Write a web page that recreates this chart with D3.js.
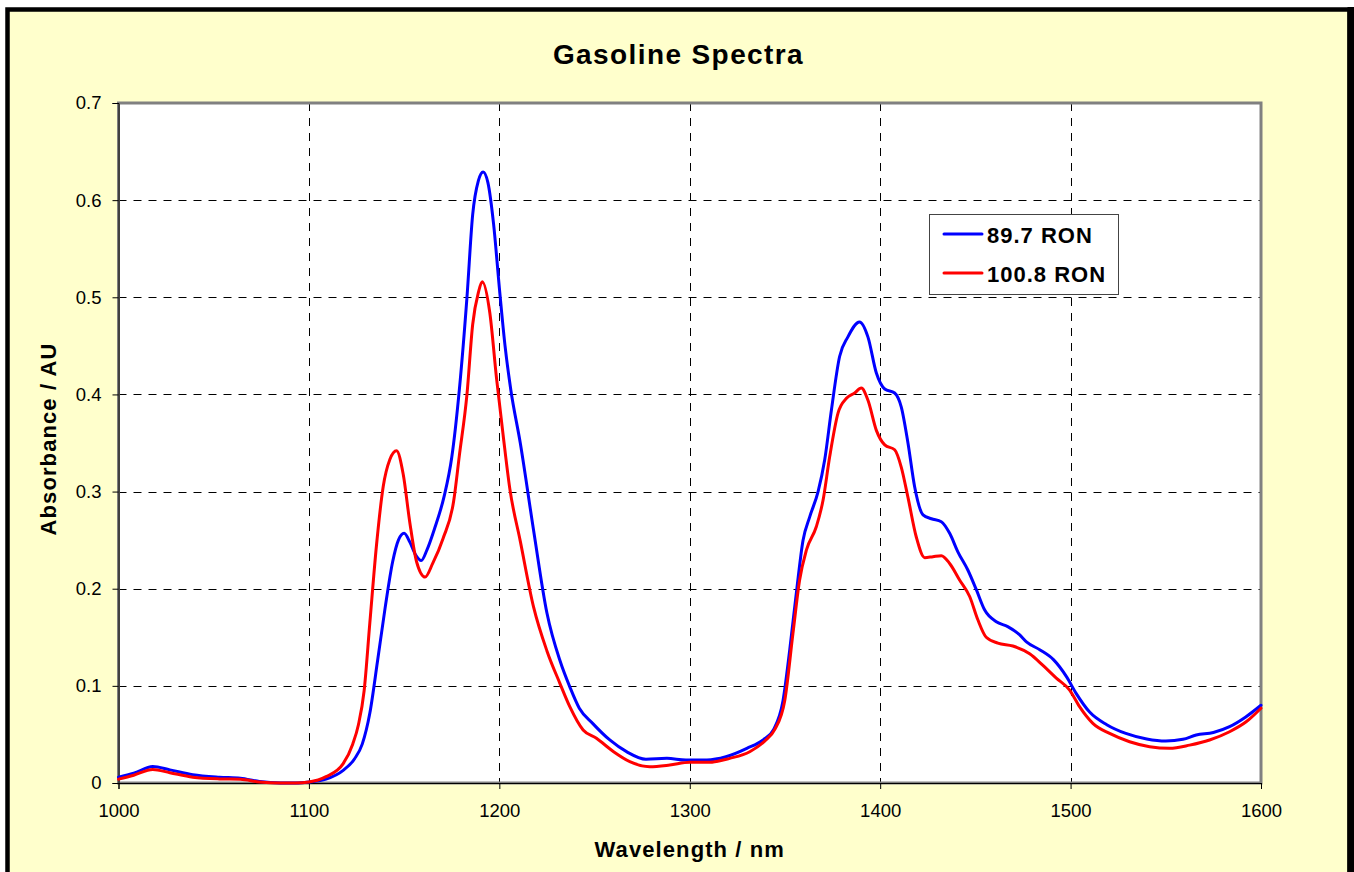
<!DOCTYPE html>
<html>
<head>
<meta charset="utf-8">
<script src="https://cdn.jsdelivr.net/npm/d3@7"></script>
<style>
  html, body { margin: 0; padding: 0; background: #ffffff; }
  svg { display: block; font-family: "Liberation Sans", Arial, sans-serif; }
</style>
</head>
<body>
<svg id="chart" width="1354" height="872"></svg>
<script>
// ---- Data ----
const title = "Gasoline Spectra";
const xTitle = "Wavelength / nm";
const yTitle = "Absorbance / AU";
const seriesNames = ["89.7 RON", "100.8 RON"];
const seriesColors = ["#0000FF", "#FF0000"];
const xTicks = [1000, 1100, 1200, 1300, 1400, 1500, 1600];
const yTicks = [0, 0.1, 0.2, 0.3, 0.4, 0.5, 0.6, 0.7];

// 89.7 RON : [wavelength nm, absorbance AU]
const ron897 = [
  [1000,.006],[1008,.010],[1018,.017],[1027,.0135],[1039,.0085],[1053,.006],[1064,.005],
  [1074,.0015],[1085,.0],[1093,.0],[1100,.001],[1109,.004],[1118,.013],[1124,.025],
  [1128,.040],[1132,.072],[1136,.125],[1140,.18],[1144,.228],[1147,.25],[1150,.257],
  [1153,.248],[1156,.235],[1159,.229],[1162,.24],[1166,.262],[1171,.295],[1175,.335],
  [1179,.405],[1183,.50],[1186,.585],[1189,.62],[1191.5,.629],[1194,.618],[1197,.575],
  [1200,.51],[1203,.45],[1206,.405],[1211,.35],[1218,.26],[1225,.175],[1232,.125],
  [1237,.099],[1242,.077],[1249,.0614],[1258,.0443],[1267,.032],[1277,.0244],[1288,.0254],
  [1298,.0237],[1309,.0237],[1319,.027],[1330,.0357],[1338.5,.0443],[1344,.055],[1349,.085],
  [1352.5,.137],[1356,.196],[1359.5,.25],[1363,.274],[1367.4,.300],[1370.9,.333],[1374.4,.384],
  [1378.7,.439],[1383,.459],[1389.2,.4746],[1393.6,.459],[1398,.422],[1402.4,.4056],
  [1407.6,.4015],[1411.1,.387],[1414.6,.35],[1418.1,.305],[1422.5,.276],[1426.9,.272],
  [1432.1,.269],[1436.5,.257],[1440.8,.238],[1446.1,.219],[1450.5,.199],[1454.9,.178],
  [1461,.166],[1467,.161],[1473,.153],[1477,.145],[1484,.137],[1491,.127],[1498,.109],
  [1503,.092],[1510,.073],[1519,.06],[1529,.051],[1540,.0453],[1550,.0432],[1559,.045],
  [1566,.0494],[1575,.052],[1583.5,.058],[1592,.068],[1600,.08]
];

// 100.8 RON : [wavelength nm, absorbance AU]
const ron1008 = [
  [1000,.004],[1008,.008],[1018,.014],[1027,.0106],[1039,.006],[1053,.0042],[1064,.0038],
  [1074,.001],[1085,.0],[1093,.0],[1100,.001],[1109,.0065],[1118,.02],[1123,.04],[1126,.06],
  [1129,.095],[1132,.165],[1135.5,.245],[1139,.305],[1142.5,.333],[1146,.342],[1149.5,.318],
  [1153,.268],[1156.5,.228],[1161,.212],[1165,.226],[1170.5,.252],[1176,.29],[1179,.337],
  [1183,.40],[1186,.472],[1189,.505],[1191,.516],[1195,.484],[1198.5,.417],[1202,.358],
  [1205.5,.303],[1211,.249],[1218,.181],[1225,.136],[1231.8,.1026],[1237,.0786],[1244,.0546],
  [1251,.046],[1260,.0322],[1268.5,.022],[1279,.0168],[1289.5,.0185],[1300,.0213],
  [1310.5,.0213],[1321,.0254],[1331.5,.0322],[1340,.0443],[1344.6,.055],[1349.9,.085],
  [1354.2,.154],[1357.7,.209],[1361.3,.24],[1366.5,.264],[1370,.291],[1373.5,.336],
  [1377.9,.381],[1382.3,.396],[1386.6,.4015],[1390.1,.4066],[1393.6,.394],[1398,.363],
  [1402.4,.348],[1407.6,.343],[1411.1,.325],[1414.6,.294],[1419,.253],[1423.4,.232],
  [1427.7,.233],[1432.1,.234],[1436.5,.226],[1441.7,.209],[1447,.192],[1451.3,.168],
  [1455.7,.15],[1461.8,.144],[1469.7,.141],[1478.5,.133],[1485.5,.121],[1492.5,.108],
  [1499.5,.0957],[1504.7,.0786],[1511.7,.0614],[1520.5,.051],[1531,.0425],[1541.5,.0374],
  [1552,.0357],[1562.5,.039],[1573,.0443],[1583.5,.0528],[1592.2,.063],[1600,.077]
];

// ---- Layout ----
const svg = d3.select("#chart");
const plot = { left: 118.5, right: 1261, top: 103, bottom: 783 };

// chart area background + border
svg.append("rect")
  .attr("x", 7.5).attr("y", 9.5).attr("width", 1342).attr("height", 900)
  .attr("fill", "#FFFFCC").attr("stroke", "#000").attr("stroke-width", 4.5);
svg.append("rect").attr("x", 1347.5).attr("y", 7).attr("width", 6.5).attr("height", 872).attr("fill", "#000");

const x = d3.scaleLinear().domain([1000, 1600]).range([plot.left, plot.right]);
const y = d3.scaleLinear().domain([0, 0.7]).range([plot.bottom, plot.top]);

// plot area
svg.append("rect")
  .attr("x", plot.left).attr("y", plot.top)
  .attr("width", plot.right - plot.left).attr("height", plot.bottom - plot.top)
  .attr("fill", "#ffffff");

// gridlines
const grid = svg.append("g");
grid.selectAll("line.h").data(yTicks.filter(d => d > 0 && d < 0.7)).enter().append("line")
  .attr("x1", plot.left).attr("x2", plot.right)
  .attr("y1", d => Math.round(y(d)) + 0.5).attr("y2", d => Math.round(y(d)) + 0.5)
  .attr("stroke", "#000").attr("stroke-width", 1).attr("stroke-dasharray", "8,7");
grid.selectAll("line.v").data(xTicks.filter(d => d > 1000 && d < 1600)).enter().append("line")
  .attr("y1", plot.top).attr("y2", plot.bottom)
  .attr("x1", d => Math.round(x(d)) + 0.5).attr("x2", d => Math.round(x(d)) + 0.5)
  .attr("stroke", "#000").attr("stroke-width", 1).attr("stroke-dasharray", "8,7");

// plot area border
svg.append("rect")
  .attr("x", plot.left).attr("y", plot.top)
  .attr("width", plot.right - plot.left).attr("height", plot.bottom - plot.top)
  .attr("fill", "none").attr("stroke", "#808080").attr("stroke-width", 3);

// axes
const xAxis = d3.axisBottom(x).tickValues(xTicks).tickSize(6).tickPadding(15).tickFormat(d3.format("d"));
const yAxis = d3.axisLeft(y).tickValues(yTicks).tickSize(6).tickPadding(11)
  .tickFormat(d => d === 0 ? "0" : d3.format(".1f")(d));

const gx = svg.append("g").attr("transform", `translate(0,${plot.bottom})`).call(xAxis);
const gy = svg.append("g").attr("transform", `translate(${plot.left},0)`).call(yAxis);
[gx, gy].forEach(g => {
  g.select(".domain").attr("stroke", "#000").attr("stroke-width", 1);
  g.selectAll(".tick line").attr("stroke", "#000").attr("stroke-width", 1);
  g.selectAll("text").attr("font-size", 18.5).attr("fill", "#000")
    .attr("font-family", "'Liberation Sans', Arial, sans-serif");
});

// lines
const line = d3.line().x(d => x(d[0])).y(d => y(d[1])).curve(d3.curveMonotoneX);
const lines = svg.append("g");
[ron897, ron1008].forEach((s, i) => {
  lines.append("path").datum(s)
    .attr("d", line).attr("fill", "none")
    .attr("stroke", seriesColors[i]).attr("stroke-width", 3)
    .attr("stroke-linejoin", "round").attr("stroke-linecap", "round");
});

// titles
svg.append("text").attr("x", 678.5).attr("y", 64).attr("text-anchor", "middle")
  .attr("font-size", 28).attr("font-weight", "bold").attr("letter-spacing", 1.4).text(title);
svg.append("text").attr("x", (plot.left + plot.right) / 2).attr("y", 857).attr("text-anchor", "middle")
  .attr("font-size", 22).attr("font-weight", "bold").attr("letter-spacing", 1.1).text(xTitle);
svg.append("text").attr("transform", `translate(56,${(plot.top + plot.bottom) / 2 - 4}) rotate(-90)`)
  .attr("text-anchor", "middle").attr("font-size", 22).attr("font-weight", "bold")
  .attr("letter-spacing", 1.1).text(yTitle);

// legend
const lg = svg.append("g");
lg.append("rect").attr("x", 929.5).attr("y", 214.5).attr("width", 189).attr("height", 80)
  .attr("fill", "#ffffff").attr("stroke", "#444").attr("stroke-width", 1);
seriesNames.forEach((n, i) => {
  const cy = 234 + i * 39;
  lg.append("line").attr("x1", 944).attr("x2", 982).attr("y1", cy).attr("y2", cy)
    .attr("stroke", seriesColors[i]).attr("stroke-width", 3).attr("stroke-linecap", "round");
  lg.append("text").attr("x", 987).attr("y", cy + 8.5).attr("font-size", 22)
    .attr("font-weight", "bold").attr("letter-spacing", 1).text(n);
});
</script>
</body>
</html>
